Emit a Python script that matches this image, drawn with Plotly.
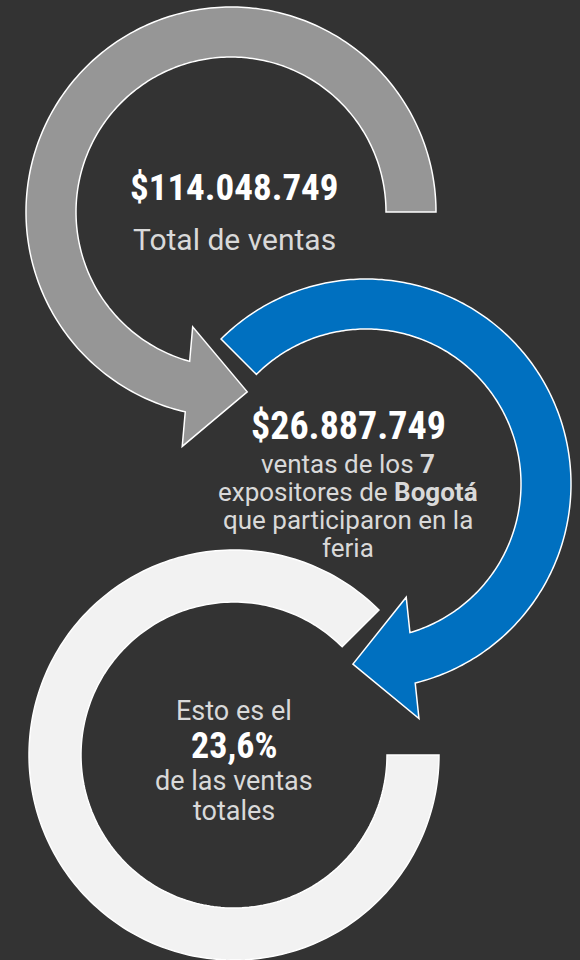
import numpy as np
import plotly.graph_objects as go

# ---------------- data ----------------
total_sales = 114048749          # total de ventas
bogota_sales = 26887749          # ventas de los expositores de Bogotá
bogota_exhibitors = 7            # número de expositores de Bogotá
share_pct = round(100 * bogota_sales / total_sales, 1)   # 23,6 %

labels_total = ["Total de ventas"]
labels_bogota = ["ventas de los <b>{n}</b>", "expositores de <b>Bogotá</b>",
                 "que participaron en la", "feria"]
labels_share = ["Esto es el", "de las ventas", "totales"]


def fmt_money(v):
    return "$" + f"{v:,}".replace(",", ".")


def fmt_pct(v):
    return f"{v:.1f}".replace(".", ",") + "%"


# ---------------- style ----------------
BG = "#333333"
GRAY = "#969696"
BLUE = "#0070C0"
LIGHT = "#F2F2F2"
TXT = "#D9D9D9"
NUM_FONT = "Liberation Sans Narrow, Roboto Condensed, Roboto, sans-serif"
TXT_FONT = "Roboto, Liberation Sans, sans-serif"


def ring_arrow(cx, cy, r_in, r_out, a0, a1, head=None):
    def pt(r, a):
        return (cx + r * np.cos(np.radians(a)), cy - r * np.sin(np.radians(a)))

    if head is None:
        outer = [pt(r_out, a) for a in np.linspace(a0, a1, 240)]
        inner = [pt(r_in, a) for a in np.linspace(a1, a0, 240)]
        pts = outer + inner
    else:
        hw, hl, tilt = head
        s = np.sign(a1 - a0)
        th = np.radians(a1)
        rm = (r_in + r_out) / 2
        M = np.array(pt(rm, a1))
        t = s * np.array([-np.sin(th), -np.cos(th)])
        n_in = np.array([-np.cos(th), np.sin(th)])
        d = np.radians(tilt)
        ax = np.cos(d) * t + np.sin(d) * n_in
        p = np.array([-ax[1], ax[0]])
        if p @ n_in < 0:
            p = -p
        tip = M + hl * ax
        b_in = M + hw * p
        b_out = M - hw * p

        def end_angle(r):
            aa = np.linspace(a1 - 25, a1 + 25, 5001)
            P = np.stack([cx + r * np.cos(np.radians(aa)),
                          cy - r * np.sin(np.radians(aa))], 1)
            dist = (P - M) @ ax
            return aa[np.argmin(np.abs(dist))]

        e_out = end_angle(r_out)
        e_in = end_angle(r_in)
        outer = [pt(r_out, a) for a in np.linspace(a0, e_out, 240)]
        inner = [pt(r_in, a) for a in np.linspace(e_in, a0, 240)]
        pts = outer + [tuple(b_out), tuple(tip), tuple(b_in)] + inner
    path = "M " + " L ".join(f"{x:.2f},{y:.2f}" for x, y in pts) + " Z"
    return path


shapes = []
# light ring (bottom)
shapes.append(dict(type="path", xref="x", yref="y",
                   path=ring_arrow(234, 755, 153, 205, 45, 360),
                   fillcolor=LIGHT, line=dict(color="white", width=1.5), layer="above"))
# blue arrow (middle)
shapes.append(dict(type="path", xref="x", yref="y",
                   path=ring_arrow(366, 484, 155, 205, 135, -75, head=(61, 60, 9)),
                   fillcolor=BLUE, line=dict(color="white", width=1.5), layer="above"))
# gray arrow (top)
shapes.append(dict(type="path", xref="x", yref="y",
                   path=ring_arrow(231, 212, 155, 205, 0, 256, head=(60, 60, 9)),
                   fillcolor=GRAY, line=dict(color="white", width=1.5), layer="above"))

annotations = []


def add_text(text, x, baseline, size, color, family, bold=False):
    t = f"<b>{text}</b>" if bold else text
    annotations.append(dict(x=x, y=baseline - 0.345 * size, xref="x", yref="y",
                            text=t, showarrow=False, xanchor="center", yanchor="middle",
                            borderpad=0,
                            font=dict(size=size, color=color, family=family)))


# block 1
add_text(fmt_money(total_sales), 234, 200, 37, "white", NUM_FONT, bold=True)
add_text(labels_total[0], 234, 250, 30, TXT, TXT_FONT)
# block 2
add_text(fmt_money(bogota_sales), 348, 439, 38, "white", NUM_FONT, bold=True)
b2_baselines = [473, 501, 529, 557]
for lab, bl in zip(labels_bogota, b2_baselines):
    add_text(lab.format(n=bogota_exhibitors), 348, bl, 26, TXT, TXT_FONT)
# block 3
add_text(labels_share[0], 234, 720, 27, TXT, TXT_FONT)
add_text(fmt_pct(share_pct), 234, 758, 36, "white", NUM_FONT, bold=True)
add_text(labels_share[1], 234, 790, 27, TXT, TXT_FONT)
add_text(labels_share[2], 234, 820, 27, TXT, TXT_FONT)

fig = go.Figure()
fig.update_layout(
    width=580, height=960,
    margin=dict(l=0, r=0, t=0, b=0),
    paper_bgcolor=BG, plot_bgcolor=BG,
    xaxis=dict(range=[0, 580], visible=False, fixedrange=True),
    yaxis=dict(range=[960, 0], visible=False, fixedrange=True),
    shapes=shapes, annotations=annotations, showlegend=False,
)
fig.write_html(
    "out.html",
    config={"displayModeBar": False},
    post_script="document.body.style.margin='0';document.body.style.background='#333333';"
                "document.body.style.overflow='hidden';",
)
